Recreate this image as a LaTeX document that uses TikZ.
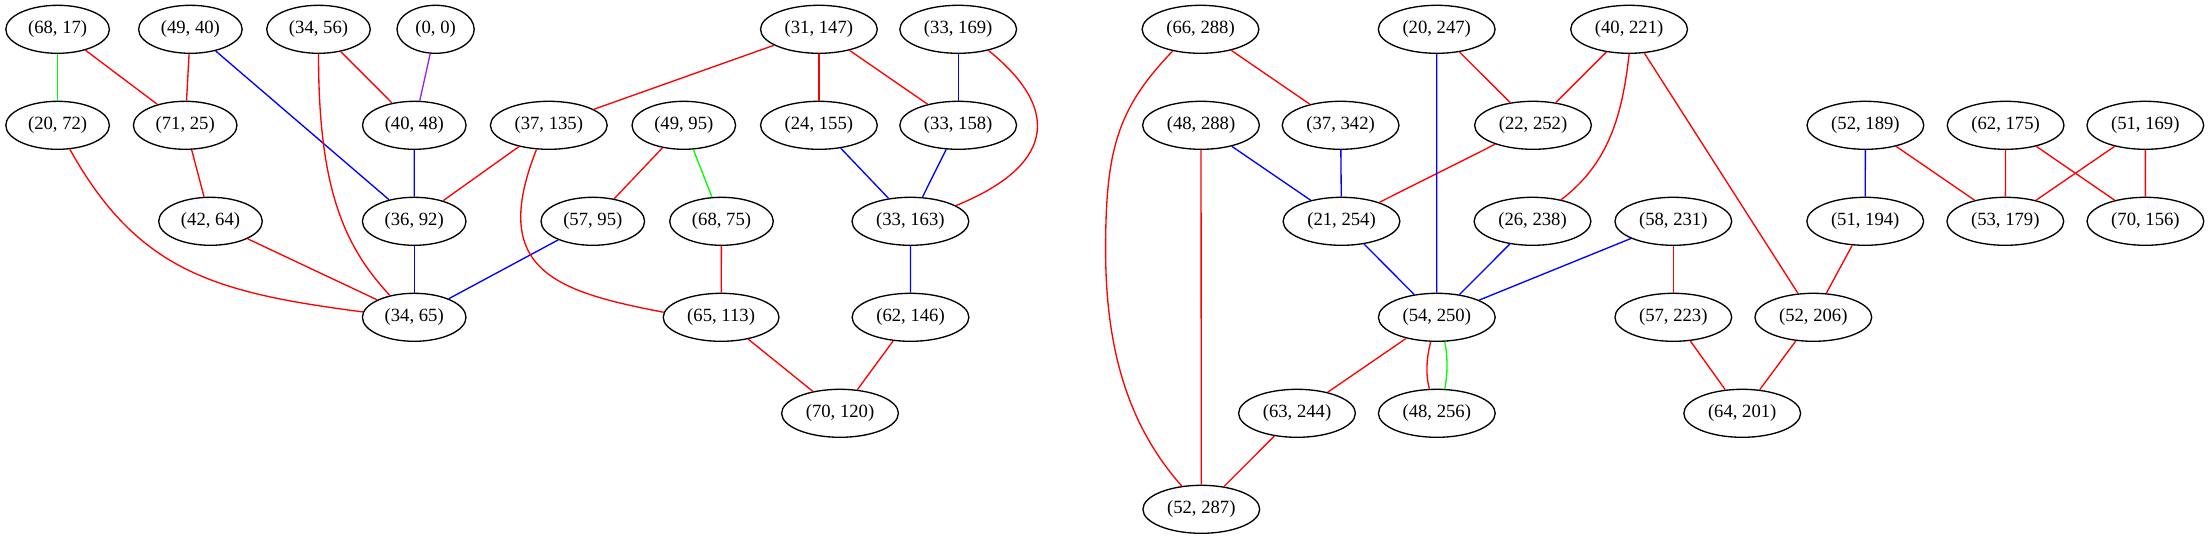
\documentclass[tikz,border=0pt]{standalone}
\usepackage{fontspec}
\setmainfont{Liberation Serif}
\usetikzlibrary{shapes.geometric}
\definecolor{gvred}{RGB}{255,0,0}
\definecolor{gvblue}{RGB}{0,0,255}
\definecolor{gvgreen}{RGB}{0,255,0}
\definecolor{gvpurple}{RGB}{160,32,240}
\tikzstyle{pair}=[draw, ellipse, line width=1pt, minimum height=36pt, inner xsep=5.3pt, inner ysep=0pt, font=\fontsize{14}{16}\selectfont]
\tikzstyle{red-edge}=[draw=gvred, line width=1pt]
\tikzstyle{blue-edge}=[draw=gvblue, line width=1pt]
\tikzstyle{green-edge}=[draw=gvgreen, line width=1pt]
\tikzstyle{purple-edge}=[draw=gvpurple, line width=1pt]

\begin{document}
\begin{tikzpicture}[x=0.75pt, y=-0.75pt]
\useasboundingbox (0,0) rectangle (2209,539);

\node[pair] (p68-17)  at (57.6,29.3)   {(68, 17)};
\node[pair] (p49-40)  at (190.4,29.3)  {(49, 40)};
\node[pair] (p34-56)  at (318.5,29.3)  {(34, 56)};
\node[pair] (p0-0)    at (435.6,29.3)  {(0, 0)};
\node[pair] (p31-147) at (818.9,29.3)  {(31, 147)};
\node[pair] (p33-169) at (958.2,29.3)  {(33, 169)};
\node[pair] (p66-288) at (1200.5,29.3) {(66, 288)};
\node[pair] (p20-247) at (1436.7,29.3) {(20, 247)};
\node[pair] (p40-221) at (1629.1,29.3) {(40, 221)};

\node[pair] (p20-72)  at (57.6,125.3)   {(20, 72)};
\node[pair] (p71-25)  at (185.2,125.3)  {(71, 25)};
\node[pair] (p40-48)  at (414.3,125.3)  {(40, 48)};
\node[pair] (p37-135) at (548.8,125.3)  {(37, 135)};
\node[pair] (p49-95)  at (683.8,125.3)  {(49, 95)};
\node[pair] (p24-155) at (818.9,125.3)  {(24, 155)};
\node[pair] (p33-158) at (958.2,125.3)  {(33, 158)};
\node[pair] (p48-288) at (1201,125.3)   {(48, 288)};
\node[pair] (p37-342) at (1340.6,125.3) {(37, 342)};
\node[pair] (p22-252) at (1533,125.3)   {(22, 252)};
\node[pair] (p52-189) at (1865.4,125.3) {(52, 189)};
\node[pair] (p62-175) at (2005.6,125.3) {(62, 175)};
\node[pair] (p51-169) at (2145.3,125.3) {(51, 169)};

\node[pair] (p42-64)  at (210.5,221.3)  {(42, 64)};
\node[pair] (p36-92)  at (414.2,221.3)  {(36, 92)};
\node[pair] (p57-95)  at (592.8,221.3)  {(57, 95)};
\node[pair] (p68-75)  at (721.5,221.3)  {(68, 75)};
\node[pair] (p33-163) at (910.4,221.3)  {(33, 163)};
\node[pair] (p21-254) at (1341.5,221.3) {(21, 254)};
\node[pair] (p26-238) at (1532.5,221.3) {(26, 238)};
\node[pair] (p58-231) at (1673.3,221.3) {(58, 231)};
\node[pair] (p51-194) at (1865.2,221.3) {(51, 194)};
\node[pair] (p53-179) at (2005.3,221.3) {(53, 179)};
\node[pair] (p70-156) at (2145.4,221.3) {(70, 156)};

\node[pair] (p34-65)  at (414.2,317.3)  {(34, 65)};
\node[pair] (p65-113) at (721.1,317.3)  {(65, 113)};
\node[pair] (p62-146) at (910.5,317.3)  {(62, 146)};
\node[pair] (p54-250) at (1436.8,317.3) {(54, 250)};
\node[pair] (p57-223) at (1673.3,317.3) {(57, 223)};
\node[pair] (p52-206) at (1813.3,317.3) {(52, 206)};

\node[pair] (p70-120) at (840,413.3)    {(70, 120)};
\node[pair] (p63-244) at (1297,413.3)   {(63, 244)};
\node[pair] (p48-256) at (1436.8,413.3) {(48, 256)};
\node[pair] (p64-201) at (1742.2,413.3) {(64, 201)};

\node[pair] (p52-287) at (1201.3,509.3) {(52, 287)};

\foreach \a/\b in {p68-17/p71-25, p49-40/p71-25, p34-56/p40-48, p71-25/p42-64, p37-135/p36-92,
  p31-147/p37-135, p49-95/p57-95, p42-64/p34-65, p68-75/p65-113, p31-147/p24-155,
  p31-147/p33-158, p65-113/p70-120, p62-146/p70-120, p66-288/p37-342, p48-288/p52-287,
  p20-247/p22-252, p40-221/p22-252, p40-221/p52-206, p22-252/p21-254, p58-231/p57-223,
  p54-250/p63-244, p63-244/p52-287, p57-223/p64-201, p52-206/p64-201, p52-189/p53-179,
  p62-175/p53-179, p62-175/p70-156, p51-169/p53-179, p51-169/p70-156, p51-194/p52-206}
  \draw[red-edge] (\a) -- (\b);

\foreach \a/\b in {p49-40/p36-92, p40-48/p36-92, p36-92/p34-65, p57-95/p34-65, p33-169/p33-158,
  p24-155/p33-163, p33-158/p33-163, p33-163/p62-146, p48-288/p21-254, p37-342/p21-254,
  p20-247/p54-250, p21-254/p54-250, p26-238/p54-250, p58-231/p54-250, p52-189/p51-194}
  \draw[blue-edge] (\a) -- (\b);

\draw[green-edge] (p68-17) -- (p20-72);
\draw[green-edge] (p49-95) -- (p68-75);
\draw[purple-edge] (p0-0) -- (p40-48);

\draw[red-edge] (p34-56.south) .. controls +(0,130) and +(-48,-51) .. (p34-65.138);
\draw[red-edge] (p20-72.-63.5) .. controls +(68.3,122.2) and +(-148.7,-19.3) .. (p34-65.174);
\draw[red-edge] (p37-135.-117) .. controls +(-48.1,120.9) and +(-108,-20.8) .. (p65-113.175);
\draw[red-edge] (p33-169.-35.4) .. controls +(77.8,62.8) and +(92.6,-37.7) .. (p33-163.19.7);
\draw[red-edge] (p66-288.218.4) .. controls +(-55.5,57.6) and +(0,-100) .. (1105.6,250)
  .. controls +(0,100) and +(-53.2,-59.8) .. (p52-287.130.3);
\draw[red-edge] (p40-221.south) .. controls +(-7.5,69.6) and +(43.5,-33.5) .. (p26-238.37.7);
\draw[red-edge] (p54-250.-104.9) .. controls +(-4,15) and +(-4,-15) .. (p48-256.107.5);
\draw[green-edge] (p54-250.-72.5) .. controls +(3,15) and +(3,-15) .. (p48-256.72.9);
\end{tikzpicture}
\end{document}
